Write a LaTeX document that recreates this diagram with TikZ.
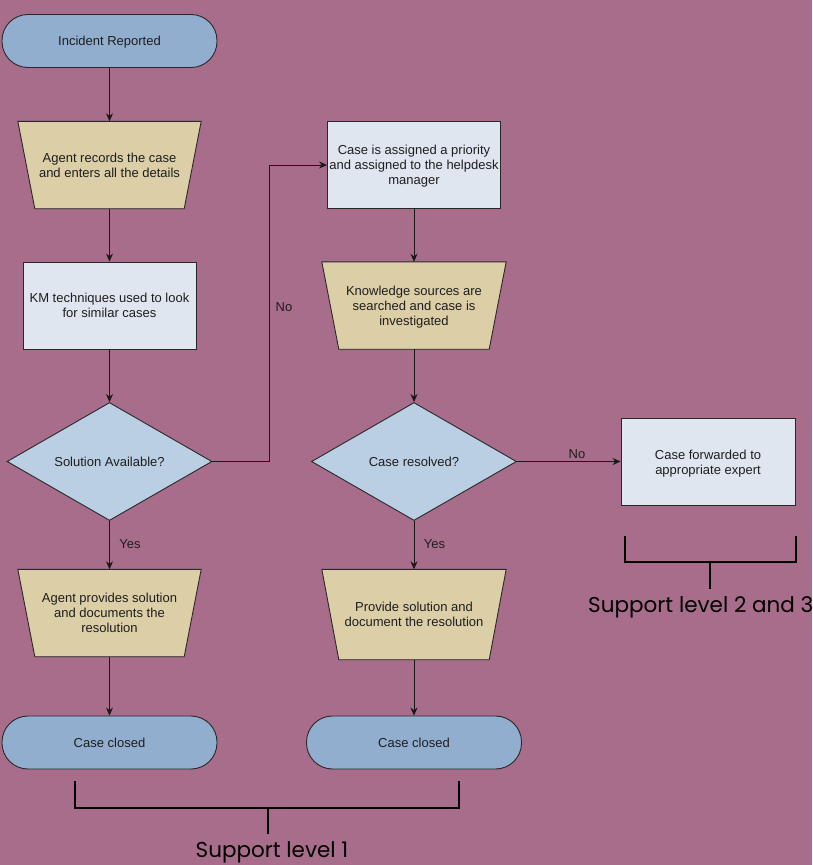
\documentclass[tikz,border=0pt]{standalone}
\usepackage{fontspec}
\setmainfont{Liberation Sans}
\newfontfamily\labelfont{Poppins}
\usetikzlibrary{shapes.geometric,arrows.meta,backgrounds,calc}
\definecolor{bgc}{RGB}{167,109,139}
\definecolor{termfill}{RGB}{146,174,206}
\definecolor{trapfill}{RGB}{220,206,166}
\definecolor{rectfill}{RGB}{224,230,240}
\definecolor{diafill}{RGB}{186,207,227}
\definecolor{edgec}{RGB}{40,40,40}
\definecolor{txt}{RGB}{30,30,30}
\begin{document}
\begin{tikzpicture}[x=1pt,y=-1pt,
  box/.style={font=\fontsize{13}{15}\selectfont, text=txt, align=center, inner sep=0pt, text depth=0pt},
  term/.style={box, draw=edgec, fill=termfill, line width=0.9pt, rounded corners=26pt, minimum width=215pt, minimum height=53pt},
  trapbox/.style={box, minimum width=183pt, minimum height=87pt},
  trapshape/.style={draw=edgec, fill=trapfill, line width=0.9pt},
  rectbox/.style={box, draw=edgec, fill=rectfill, line width=0.9pt, minimum width=173pt, minimum height=87pt},
  dia/.style={box, diamond, aspect=1.737, draw=edgec, fill=diafill, line width=0.9pt, minimum width=205pt, minimum height=118pt},
  arr/.style={draw=black!90, line width=0.9pt, -{Stealth[length=8pt,width=7pt]}},
  lbl/.style={font=\fontsize{13}{15}\selectfont, text=txt},
  brk/.style={draw=black, line width=2pt},
  sup/.style={font=\labelfont\fontsize{21.5}{25}\selectfont, text=black, inner sep=0pt}
]
\useasboundingbox (0,0) rectangle (812,865);

% nodes
\node[term] (inc) at (109.5,41) {Incident Reported};
\node[trapbox] (rec) at (109.5,165) {Agent records the case\\and enters all the details};
\node[rectbox] (km) at (109.5,305.5) {KM techniques used to look\\for similar cases};
\node[dia] (sol) at (109.5,461.5) {Solution Available?};
\node[trapbox] (prov) at (109.5,613) {Agent provides solution\\and documents the\\resolution};
\node[term] (cl1) at (109.5,742.5) {Case closed};

\node[rectbox] (asg) at (414,165) {Case is assigned a priority\\and assigned to the helpdesk\\manager};
\node[trapbox, minimum width=184pt] (know) at (414,305.5) {Knowledge sources are\\searched and case is\\investigated};
\node[dia] (res) at (414,461.5) {Case resolved?};
\node[trapbox, minimum width=184pt, minimum height=90pt] (prov2) at (414,614.5) {Provide solution and\\document the resolution};
\node[term] (cl2) at (414,742.5) {Case closed};

\node[rectbox, minimum width=174pt] (fwd) at (708,462) {Case forwarded to\\appropriate expert};

\begin{scope}[on background layer]
  \fill[bgc] (0,0) rectangle (812,865);
  \foreach \n in {rec,prov,know,prov2}{
    \path[trapshape] (\n.north west) -- (\n.north east) -- ([xshift=-17pt]\n.south east) -- ([xshift=17pt]\n.south west) -- cycle;
  }
\end{scope}

% connectors
\draw[arr] (inc) -- (rec);
\draw[arr] (rec) -- (km);
\draw[arr] (km) -- (sol);
\draw[arr] (sol) -- node[lbl, right, xshift=6pt, pos=0.47]{Yes} (prov);
\draw[arr] (prov) -- (cl1);
\coordinate (turn) at (269,461.5);
\draw[arr] (sol.east) -- (turn) |- (asg.west);
\node[lbl] (no1) at (284,307) {No};
\draw[arr] (asg) -- (know);
\draw[arr] (know) -- (res);
\draw[arr] (res) -- node[lbl, right, xshift=6pt, pos=0.47]{Yes} (prov2);
\draw[arr] (prov2) -- (cl2);
\draw[arr] (res.east) -- node[lbl, above, pos=0.58, yshift=-1pt]{No} (fwd.west |- res.east);

% brackets
\draw[brk] (75,781) -- (75,808) -- (459,808) -- (459,781);
\draw[brk] (268,808) -- (268,834);
\node[sup] (s1) at (272,852) {Support level 1};
\draw[brk] (625,536) -- (625,562) -- (796,562) -- (796,536);
\draw[brk] (710,562) -- (710,589);
\node[sup, anchor=west] (s2) at (588,607) {Support level 2 and 3};
\end{tikzpicture}
\end{document}
